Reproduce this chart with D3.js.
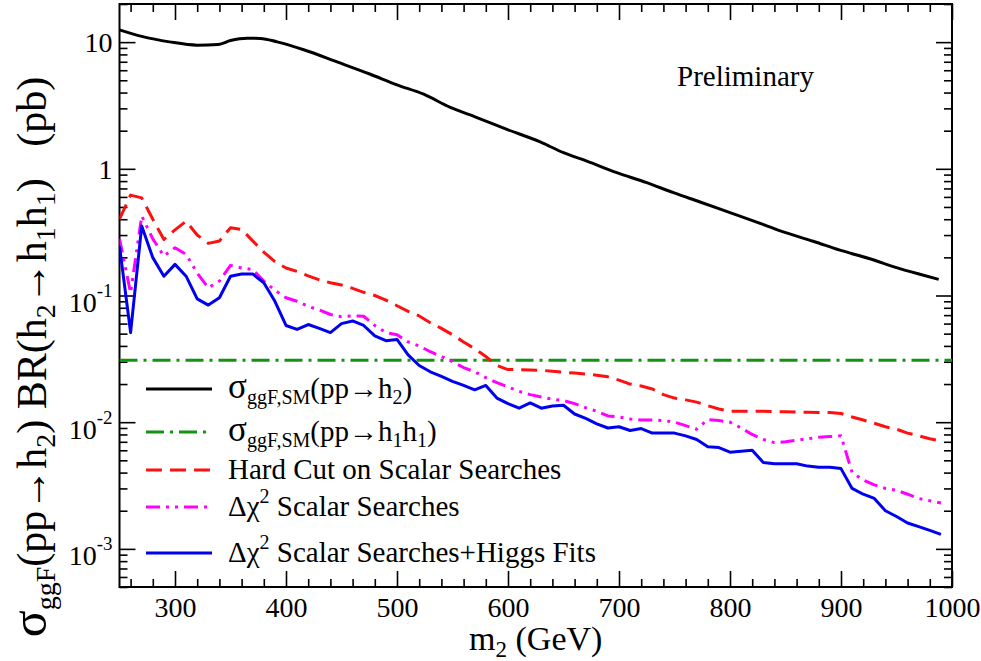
<!DOCTYPE html>
<html>
<head>
<meta charset="utf-8">
<script src="https://cdn.jsdelivr.net/npm/d3@7"></script>
<style>
  html, body { margin: 0; padding: 0; background: #fff; }
  svg { display: block; }
  svg text { font-family: "Liberation Serif", "Times New Roman", Times, serif; }
</style>
</head>
<body>
<svg id="chart" width="981" height="661"></svg>
<script>
// ---- data -------------------------------------------------------------
// SM gluon-fusion cross section for a heavy scalar h2 (pb)
const smMass = [250, 270, 295, 320, 339, 350, 365, 377, 392, 416, 446, 476, 500, 524, 548, 572,
                599, 629, 650, 671, 698, 725, 749, 773, 800, 824, 848, 875, 899, 926, 950, 971, 988];
const smXsec = [12.5, 11.1, 10.05, 9.47, 9.6, 10.3, 10.75, 10.7, 10.05, 8.7, 6.98, 5.58, 4.6, 3.88, 3.05, 2.54,
                2.05, 1.63, 1.34, 1.15, 0.933, 0.778, 0.648, 0.547, 0.451, 0.380, 0.318, 0.268, 0.228, 0.195, 0.166, 0.147, 0.134];

// SM di-Higgs gluon-fusion cross section (pb), flat reference line
const hhMass = [250, 1000];
const hhXsec = [0.0308, 0.0308];

// mass grid of the scan (GeV)
const scanMass = [250, 260, 270, 280, 290, 300, 310, 320, 330, 340, 350, 360, 370, 380, 390,
                  400, 410, 420, 430, 440, 450, 460, 470, 480, 490, 500, 510, 520, 530, 540,
                  550, 560, 570, 580, 590, 600, 610, 620, 630, 640, 650, 660, 670, 680, 690,
                  700, 710, 720, 730, 740, 750, 760, 770, 780, 790, 800, 810, 820, 830, 840,
                  850, 860, 870, 880, 890, 900, 910, 920, 930, 940, 950, 960, 970, 980, 990];

// maximal sigma x BR allowed by a hard cut on scalar searches
const hardCut = [0.40, 0.62, 0.59, 0.40, 0.277, 0.33, 0.386, 0.30, 0.258, 0.269, 0.343, 0.332, 0.27, 0.22, 0.185,
                 0.165, 0.155, 0.143, 0.133, 0.126, 0.121, 0.114, 0.106, 0.100, 0.092, 0.083, 0.075, 0.069, 0.061, 0.055,
                 0.049, 0.043, 0.038, 0.033, 0.028, 0.026, 0.026, 0.0258, 0.0257, 0.0252, 0.0248, 0.0244, 0.0240, 0.0235, 0.0228,
                 0.0215, 0.0200, 0.0193, 0.0183, 0.0165, 0.0155, 0.0150, 0.0144, 0.0135, 0.0127, 0.0122, 0.0122, 0.0122, 0.0122, 0.0121,
                 0.0121, 0.0120, 0.0120, 0.0119, 0.0119, 0.0117, 0.0110, 0.0104, 0.0098, 0.0092, 0.0088, 0.0082, 0.0078, 0.0074, 0.0071];

// Delta chi^2 from scalar searches
const chi2Scalar = [0.28, 0.105, 0.424, 0.28, 0.205, 0.238, 0.211, 0.15, 0.115, 0.13, 0.173, 0.165, 0.16, 0.13, 0.11,
                    0.096, 0.09, 0.082, 0.077, 0.0708, 0.068, 0.069, 0.0686, 0.058, 0.051, 0.049, 0.043, 0.040, 0.036, 0.033,
                    0.030, 0.027, 0.025, 0.0225, 0.0205, 0.019, 0.0175, 0.0165, 0.0158, 0.0152, 0.0148, 0.0140, 0.0130, 0.0122, 0.0112,
                    0.0110, 0.0106, 0.0104, 0.0104, 0.0103, 0.0100, 0.0094, 0.0088, 0.0105, 0.0103, 0.0100, 0.0090, 0.0080, 0.0073, 0.0069,
                    0.0070, 0.0072, 0.0074, 0.0076, 0.0077, 0.0078, 0.0040, 0.0035, 0.0032, 0.0030, 0.0029, 0.0027, 0.0025, 0.0024, 0.0023];

// Delta chi^2 from scalar searches combined with Higgs signal-strength fits
const chi2Combined = [0.245, 0.051, 0.353, 0.199, 0.142, 0.176, 0.142, 0.094, 0.084, 0.096, 0.142, 0.148, 0.148, 0.126, 0.090,
                      0.058, 0.054, 0.059, 0.055, 0.051, 0.060, 0.063, 0.058, 0.048, 0.044, 0.045, 0.034, 0.028, 0.025, 0.023,
                      0.021, 0.0195, 0.018, 0.0195, 0.0155, 0.014, 0.0129, 0.0142, 0.0129, 0.0134, 0.0136, 0.0116, 0.0107, 0.0097, 0.0090,
                      0.0092, 0.0086, 0.0089, 0.0082, 0.0082, 0.0082, 0.0078, 0.0073, 0.0064, 0.0063, 0.0058, 0.0059, 0.0060, 0.0048, 0.0047,
                      0.0047, 0.0047, 0.0045, 0.0044, 0.0044, 0.0043, 0.0030, 0.0027, 0.0025, 0.0020, 0.0018, 0.0016, 0.0015, 0.0014, 0.0013];

// axis ticks
const xMajorTicks = [300, 400, 500, 600, 700, 800, 900, 1000];
const xMinorTicks = [260, 280, 320, 340, 360, 380, 420, 440, 460, 480, 520, 540, 560, 580, 620, 640, 660, 680,
                     720, 740, 760, 780, 820, 840, 860, 880, 920, 940, 960, 980];
const yMajorTicks = [10, 1, 0.1, 0.01, 0.001];
const yTickExponents = [1, 0, -1, -2, -3];

// ---- layout -------------------------------------------------------------
const svg = d3.select("#chart");
const plot = { left: 119.5, right: 952, top: 4, bottom: 587 };
const FONT_TICK = 28;

const x = d3.scaleLinear().domain([250, 1000]).range([plot.left, plot.right]);
const y = d3.scaleLog().domain([5e-4, 20]).range([plot.bottom, plot.top]);

// minor log ticks: 2..9 within every decade
const yMinorTicks = [];
[-4, -3, -2, -1, 0, 1].forEach(e => {
  for (let m = 2; m <= 9; m++) {
    const v = m * Math.pow(10, e);
    if (v >= 5e-4 && v <= 20) yMinorTicks.push(v);
  }
});

// ---- axes (ticks point inward on all four sides) -------------------------
function styleAxis(g) {
  g.attr("font-family", null);
  g.select(".domain").remove();
  g.selectAll(".tick line").attr("stroke", "#000").attr("stroke-width", 1.6);
}

// bottom
svg.append("g").attr("transform", `translate(0,${plot.bottom})`)
  .call(d3.axisBottom(x).tickValues(xMinorTicks).tickSize(-8).tickSizeOuter(0).tickFormat(""))
  .call(styleAxis);
svg.append("g").attr("transform", `translate(0,${plot.bottom})`)
  .call(d3.axisBottom(x).tickValues(xMajorTicks).tickSize(-16).tickSizeOuter(0).tickPadding(10).tickFormat(d3.format("d")))
  .call(styleAxis)
  .call(g => g.selectAll(".tick text").attr("font-size", FONT_TICK).attr("fill", "#000"));
// top
svg.append("g").attr("transform", `translate(0,${plot.top})`)
  .call(d3.axisTop(x).tickValues(xMinorTicks).tickSize(-8).tickSizeOuter(0).tickFormat(""))
  .call(styleAxis);
svg.append("g").attr("transform", `translate(0,${plot.top})`)
  .call(d3.axisTop(x).tickValues(xMajorTicks).tickSize(-16).tickSizeOuter(0).tickFormat(""))
  .call(styleAxis);
// left
svg.append("g").attr("transform", `translate(${plot.left},0)`)
  .call(d3.axisLeft(y).tickValues(yMinorTicks).tickSize(-8).tickSizeOuter(0).tickFormat(""))
  .call(styleAxis);
const yLeft = svg.append("g").attr("transform", `translate(${plot.left},0)`)
  .call(d3.axisLeft(y).tickValues(yMajorTicks).tickSize(-16).tickSizeOuter(0).tickFormat(""))
  .call(styleAxis);
// right
svg.append("g").attr("transform", `translate(${plot.right},0)`)
  .call(d3.axisRight(y).tickValues(yMinorTicks).tickSize(-8).tickSizeOuter(0).tickFormat(""))
  .call(styleAxis);
svg.append("g").attr("transform", `translate(${plot.right},0)`)
  .call(d3.axisRight(y).tickValues(yMajorTicks).tickSize(-16).tickSizeOuter(0).tickFormat(""))
  .call(styleAxis);

// y tick labels: 10, 1, then powers of ten with superscript exponents
yLeft.selectAll(".tick").each(function (d, i) {
  const e = yTickExponents[i];
  const t = d3.select(this).append("text")
    .attr("fill", "#000").attr("text-anchor", "end")
    .attr("font-size", FONT_TICK).attr("x", -7);
  if (e >= 0) {
    t.attr("y", 9.5).text(e === 1 ? "10" : "1");
  } else {
    t.attr("y", 16);
    t.append("tspan").text("10");
    t.append("tspan").attr("font-size", 19).attr("dy", -15).text("-" + (-e));
  }
});

// frame
svg.append("rect")
  .attr("x", plot.left).attr("y", plot.top)
  .attr("width", plot.right - plot.left).attr("height", plot.bottom - plot.top)
  .attr("fill", "none").attr("stroke", "#000").attr("stroke-width", 2);

// ---- curves -------------------------------------------------------------
const series = [
  { mass: smMass,   vals: smXsec,       color: "#000000", dash: null,             curve: d3.curveMonotoneX },
  { mass: hhMass,   vals: hhXsec,       color: "#129412", dash: "18,6,3,6",       curve: d3.curveLinear },
  { mass: scanMass, vals: hardCut,      color: "#ff1010", dash: "16,8",           curve: d3.curveLinear },
  { mass: scanMass, vals: chi2Scalar,   color: "#ff00ff", dash: "14,6,3,6,3,6",   curve: d3.curveLinear },
  { mass: scanMass, vals: chi2Combined, color: "#0000f0", dash: null,             curve: d3.curveLinear }
];

svg.append("clipPath").attr("id", "plot-clip")
  .append("rect").attr("x", plot.left).attr("y", plot.top)
  .attr("width", plot.right - plot.left).attr("height", plot.bottom - plot.top);

const curves = svg.append("g").attr("clip-path", "url(#plot-clip)");
series.forEach(s => {
  const line = d3.line().x(d => x(d[0])).y(d => y(d[1])).curve(s.curve);
  curves.append("path")
    .datum(s.mass.map((m, i) => [m, s.vals[i]]))
    .attr("d", line)
    .attr("fill", "none")
    .attr("stroke", s.color)
    .attr("stroke-width", 3)
    .attr("stroke-linejoin", "round")
    .attr("stroke-dasharray", s.dash);
});

// ---- legend -------------------------------------------------------------
// parts: plain text, subscripts (sub) and superscripts (sup); big = enlarged Greek sigma
const legendLabels = [
  [{ t: "σ", big: true }, { t: "ggF,SM", sub: true }, { t: "(pp→h" }, { t: "2", sub: true }, { t: ")" }],
  [{ t: "σ", big: true }, { t: "ggF,SM", sub: true }, { t: "(pp→h" }, { t: "1", sub: true }, { t: "h" }, { t: "1", sub: true }, { t: ")" }],
  [{ t: "Hard Cut on Scalar Searches" }],
  [{ t: "Δχ" }, { t: "2", sup: true }, { t: " Scalar Searches" }],
  [{ t: "Δχ" }, { t: "2", sup: true }, { t: " Scalar Searches+Higgs Fits" }]
];
const legendRows = [389, 432, 470, 507, 553];

function richText(sel, parts, size, subSize, subShift, supShift, bigSize) {
  let shift = 0;
  parts.forEach(p => {
    const target = p.sub ? subShift : p.sup ? -supShift : 0;
    sel.append("tspan")
      .attr("font-size", (p.sub || p.sup) ? subSize : p.big ? bigSize : size)
      .attr("dy", target - shift)
      .text(p.t);
    shift = target;
  });
}

const legend = svg.append("g");
series.forEach((s, i) => {
  const ly = legendRows[i];
  legend.append("line")
    .attr("x1", 146).attr("x2", 212).attr("y1", ly).attr("y2", ly)
    .attr("stroke", s.color).attr("stroke-width", 3)
    .attr("stroke-dasharray", s.dash);
  const t = legend.append("text").attr("x", 228).attr("y", ly + 9).attr("fill", "#000");
  richText(t, legendLabels[i], 29, 20, 6, 13, 35);
});

// ---- annotations and axis titles ----------------------------------------
svg.append("text").attr("x", 677).attr("y", 86).attr("font-size", 29).attr("fill", "#000")
  .text("Preliminary");

const xTitle = svg.append("text")
  .attr("x", (plot.left + plot.right) / 2).attr("y", 650)
  .attr("text-anchor", "middle").attr("fill", "#000");
richText(xTitle, [{ t: "m" }, { t: "2", sub: true }, { t: " (GeV)" }], 34, 23, 7, 0, 34);

const yTitle = svg.append("text")
  .attr("transform", "translate(46,357) rotate(-90)")
  .attr("text-anchor", "middle").attr("fill", "#000");
richText(yTitle, [
  { t: "σ", big: true }, { t: "ggF", sub: true }, { t: "(pp→h" }, { t: "2", sub: true }, { t: ") BR(h" },
  { t: "2", sub: true }, { t: "→h" }, { t: "1", sub: true }, { t: "h" }, { t: "1", sub: true },
  { t: ")\u00a0\u00a0\u00a0(pb)" }
], 42, 28, 9, 0, 50);
</script>
</body>
</html>
